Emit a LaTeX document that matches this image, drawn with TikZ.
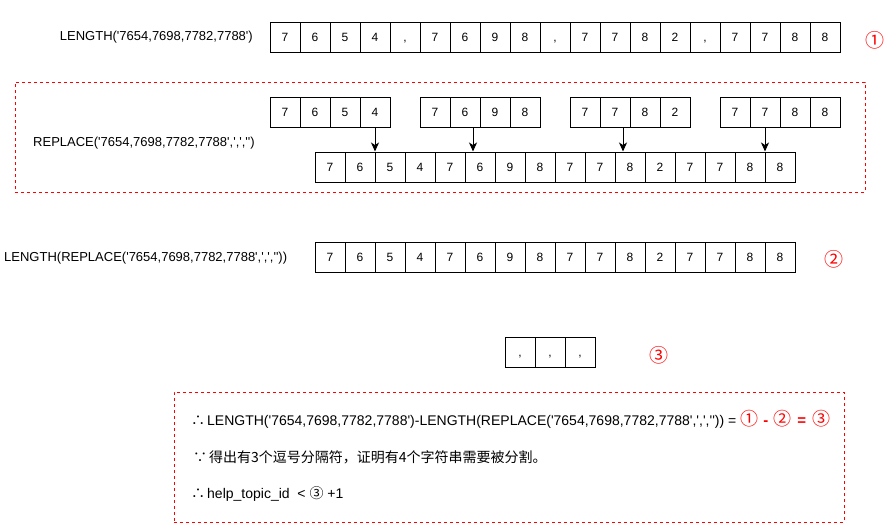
\documentclass[tikz,border=0pt]{standalone}
\usepackage{fontspec}
\setmainfont{Liberation Sans}[Ligatures=TeXOff]
\newfontfamily\cjkf{Noto Sans CJK SC}
\usetikzlibrary{arrows.meta}
\definecolor{dred}{RGB}{255,0,0}
\begin{document}
\begin{tikzpicture}[x=1pt,y=-1pt,
  cell/.style={draw=black,line width=1pt,minimum width=30pt,minimum height=30pt,inner sep=0pt,text height=8.6pt,text depth=0pt,font=\fontsize{12}{12}\selectfont},
  lbl/.style={inner sep=0pt,font=\fontsize{13}{15}\selectfont},
  stmt/.style={inner sep=0pt,anchor=west,font=\fontsize{14}{16}\selectfont},
  redframe/.style={draw=dred,line width=1pt,dash pattern=on 3pt off 3pt,inner sep=0pt},
  circnum/.style={inner sep=0pt,text=dred,font=\cjkf\fontsize{19}{19}\selectfont},
  arr/.style={draw=black,line width=1pt,-{Stealth[length=9pt,width=8pt,inset=2.5pt]}}]
\useasboundingbox (0,0) rectangle (888,530);

% row 1
\foreach \t [count=\i] in {7,6,5,4,{,},7,6,9,8,{,},7,7,8,2,{,},7,7,8,8}
  \node[cell] (a\i) at ({255+30*\i},37) {\t};
\node[lbl,anchor=east] (la) at (253,37) {LENGTH('7654,7698,7782,7788')};
\node[circnum] (n1) at (875,40) {①};

% frame 1
\node[redframe,minimum width=850pt,minimum height=110pt] (frame1) at (440,137) {};

% groups
\foreach \t [count=\j] in {7,6,5,4} \node[cell] (p\j) at ({255+30*\j},112) {\t};
\foreach \t [count=\j] in {7,6,9,8} \node[cell] (q\j) at ({405+30*\j},112) {\t};
\foreach \t [count=\j] in {7,7,8,2} \node[cell] (r\j) at ({555+30*\j},112) {\t};
\foreach \t [count=\j] in {7,7,8,8} \node[cell] (s\j) at ({705+30*\j},112) {\t};

% merged row
\foreach \t [count=\i] in {7,6,5,4,7,6,9,8,7,7,8,2,7,7,8,8}
  \node[cell] (b\i) at ({300+30*\i},167) {\t};
\node[lbl,anchor=east] (lb) at (255,143) {REPLACE('7654,7698,7782,7788',',','')};

\draw[arr] (p4.south) -- (p4.south |- b2.north);
\draw[arr] ([xshift=8pt]q2.south) -- ([xshift=8pt]q2.south |- b6.north);
\draw[arr] ([xshift=8pt]r2.south) -- ([xshift=8pt]r2.south |- b11.north);
\draw[arr] (s2.south) -- (s2.south |- b15.north);

% row 3
\foreach \t [count=\i] in {7,6,5,4,7,6,9,8,7,7,8,2,7,7,8,8}
  \node[cell] (c\i) at ({300+30*\i},257) {\t};
\node[lbl,anchor=west] (lc) at (4,258) {LENGTH(REPLACE('7654,7698,7782,7788',',',''))};
\node[circnum] (n2) at (834,259) {②};

% commas
\foreach \i in {1,2,3} \node[cell] (d\i) at ({490+30*\i},352) {,};
\node[circnum] (n3) at (659,355) {③};

% frame 2
\node[redframe,minimum width=670pt,minimum height=130pt] (frame2) at (509,457) {};

\node[stmt] (st1) at (191,419) {{\cjkf ∴}\hspace{2pt}LENGTH('7654,7698,7782,7788')-LENGTH(REPLACE('7654,7698,7782,7788',',','')) = \textcolor{dred}{\cjkf\fontsize{18}{18}\selectfont ①\hspace{5pt}{\rmfamily\bfseries\fontsize{15}{15}\selectfont -}\hspace{5pt}②\hspace{6pt}{\rmfamily\bfseries\fontsize{15}{15}\selectfont =}\hspace{6pt}③}};
\node[stmt] (st2) at (193,457) {\cjkf ∵\hspace{2pt}得出有3个逗号分隔符，证明有4个字符串需要被分割。};
\node[stmt] (st3) at (191,494) {{\cjkf ∴}\hspace{2pt}help\_topic\_id~~< {\cjkf ③} +1};
\end{tikzpicture}
\end{document}
